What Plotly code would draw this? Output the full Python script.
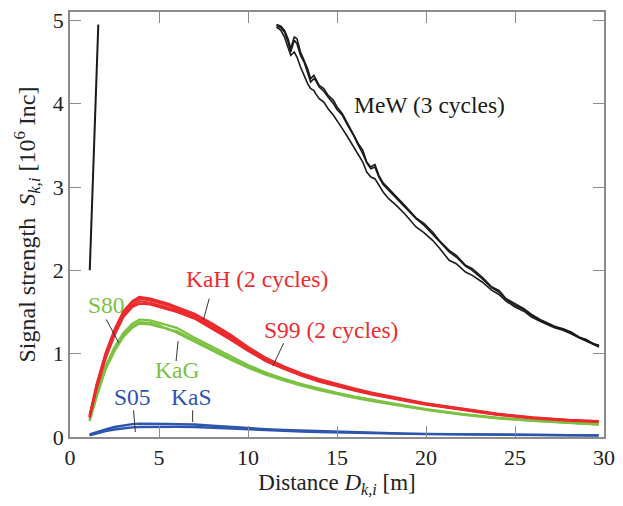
import plotly.graph_objects as go

# ---------------- data ----------------
# Near-range MeW readings (steep rise before saturation)
mew_near_d = [1.11, 1.35, 1.59]
mew_near_s = [2.00, 3.45, 4.95]

# MeW far-range, three measurement cycles
mew_d = [11.6, 11.85, 12.05, 12.25, 12.4, 12.6, 12.75, 12.95, 13.15, 13.35, 13.52, 13.7,
         13.8, 14.0, 14.26, 14.5, 14.8, 15.0, 15.3, 15.6, 15.93, 16.2, 16.45, 16.67,
         16.9, 17.13, 17.35, 17.59, 17.9, 18.33, 18.8, 19.44, 19.9, 20.37, 20.74, 21.3,
         21.7, 22.22, 22.6, 23.15, 23.7, 24.1, 24.5, 25.0, 25.5, 25.93, 26.5, 27.22,
         27.7, 28.15, 28.6, 29.0, 29.4, 29.72]
mew_c1 = [4.95, 4.93, 4.88, 4.78, 4.66, 4.80, 4.78, 4.62, 4.52, 4.42, 4.30, 4.34,
          4.30, 4.22, 4.18, 4.10, 4.04, 3.96, 3.88, 3.76, 3.64, 3.52, 3.44, 3.30,
          3.24, 3.27, 3.14, 3.05, 2.98, 2.89, 2.78, 2.63, 2.56, 2.46, 2.36, 2.24,
          2.18, 2.06, 2.02, 1.92, 1.80, 1.76, 1.66, 1.60, 1.54, 1.47, 1.40, 1.33,
          1.30, 1.26, 1.20, 1.17, 1.12, 1.10]
mew_c2 = [4.94, 4.91, 4.86, 4.74, 4.62, 4.76, 4.72, 4.58, 4.50, 4.38, 4.26, 4.30,
          4.28, 4.20, 4.15, 4.08, 4.00, 3.93, 3.86, 3.74, 3.62, 3.50, 3.40, 3.29,
          3.22, 3.24, 3.12, 3.03, 2.96, 2.87, 2.76, 2.62, 2.54, 2.44, 2.35, 2.22,
          2.16, 2.05, 2.00, 1.90, 1.79, 1.74, 1.65, 1.58, 1.53, 1.46, 1.39, 1.32,
          1.29, 1.25, 1.19, 1.16, 1.12, 1.09]
mew_c3 = [4.92, 4.88, 4.80, 4.68, 4.58, 4.62, 4.56, 4.44, 4.34, 4.24, 4.18, 4.16,
          4.12, 4.06, 4.02, 3.94, 3.86, 3.80, 3.70, 3.60, 3.48, 3.38, 3.30, 3.18,
          3.12, 3.10, 3.02, 2.94, 2.86, 2.78, 2.68, 2.52, 2.45, 2.36, 2.27, 2.12,
          2.08, 1.98, 1.94, 1.86, 1.76, 1.71, 1.63, 1.56, 1.51, 1.44, 1.38, 1.31,
          1.28, 1.24, 1.19, 1.15, 1.11, 1.08]

# Shared distance grid for the other transmitters
dist = [1.1, 1.5, 2.0, 2.5, 3.0, 3.5, 3.9, 4.5, 5.0, 5.5, 6.0, 7.0, 8.0, 9.0, 10.0,
        11.0, 12.0, 13.0, 14.0, 15.0, 16.0, 17.0, 18.0, 19.0, 20.0, 22.0, 24.0,
        26.0, 28.0, 29.7]

# Red group: KaH (2 cycles) and S99 (2 cycles)
kah_c1 = [0.26, 0.64, 1.01, 1.29, 1.51, 1.63, 1.68, 1.66, 1.63, 1.60, 1.56, 1.48,
          1.36, 1.23, 1.08, 0.95, 0.85, 0.765, 0.695, 0.635, 0.58, 0.53, 0.485, 0.445,
          0.405, 0.34, 0.28, 0.235, 0.205, 0.19]
kah_c2 = [0.25, 0.62, 0.99, 1.27, 1.49, 1.61, 1.66, 1.64, 1.61, 1.58, 1.54, 1.46,
          1.34, 1.21, 1.065, 0.94, 0.84, 0.755, 0.685, 0.625, 0.572, 0.523, 0.478, 0.438,
          0.40, 0.335, 0.275, 0.232, 0.202, 0.187]
s99_c1 = [0.24, 0.60, 0.96, 1.24, 1.46, 1.58, 1.63, 1.61, 1.58, 1.55, 1.52, 1.44,
          1.32, 1.19, 1.05, 0.925, 0.83, 0.745, 0.675, 0.615, 0.564, 0.515, 0.47, 0.432,
          0.394, 0.33, 0.27, 0.228, 0.198, 0.183]
s99_c2 = [0.23, 0.58, 0.94, 1.22, 1.44, 1.56, 1.60, 1.59, 1.56, 1.53, 1.50, 1.42,
          1.30, 1.17, 1.035, 0.91, 0.82, 0.735, 0.665, 0.607, 0.557, 0.508, 0.464, 0.426,
          0.388, 0.325, 0.266, 0.224, 0.195, 0.18]

# Green group: S80 and KaG
s80_a = [0.21, 0.52, 0.85, 1.08, 1.25, 1.36, 1.41, 1.40, 1.37, 1.34, 1.31, 1.19,
         1.08, 0.97, 0.865, 0.775, 0.70, 0.635, 0.58, 0.53, 0.485, 0.445, 0.405, 0.37,
         0.335, 0.278, 0.232, 0.198, 0.172, 0.155]
s80_b = [0.20, 0.50, 0.83, 1.05, 1.22, 1.33, 1.38, 1.37, 1.34, 1.29, 1.27, 1.16,
         1.05, 0.945, 0.845, 0.76, 0.688, 0.625, 0.57, 0.52, 0.476, 0.437, 0.398, 0.363,
         0.33, 0.273, 0.228, 0.195, 0.169, 0.152]
kag_a = [0.19, 0.48, 0.81, 1.03, 1.20, 1.31, 1.36, 1.35, 1.32, 1.30, 1.25, 1.14,
         1.03, 0.93, 0.83, 0.748, 0.678, 0.615, 0.562, 0.513, 0.47, 0.43, 0.392, 0.358,
         0.325, 0.269, 0.224, 0.192, 0.166, 0.149]

# Blue group: S05 and KaS
s05 = [0.03, 0.06, 0.09, 0.12, 0.14, 0.155, 0.16, 0.162, 0.16, 0.158, 0.155, 0.15,
       0.135, 0.12, 0.105, 0.095, 0.085, 0.078, 0.07, 0.062, 0.055, 0.05, 0.045,
       0.041, 0.038, 0.032, 0.027, 0.024, 0.022, 0.02]
kas = [0.02, 0.045, 0.07, 0.09, 0.105, 0.115, 0.12, 0.123, 0.125, 0.125, 0.123, 0.12,
       0.11, 0.10, 0.09, 0.08, 0.072, 0.066, 0.06, 0.054, 0.048, 0.044, 0.04, 0.037,
       0.034, 0.029, 0.025, 0.022, 0.02, 0.018]

# Text labels: (text, distance, strength, colour key)
labels = [
    ("MeW (3 cycles)", 20.19, 3.98, "black"),
    ("KaH (2 cycles)", 10.53, 1.90, "red"),
    ("S99 (2 cycles)", 14.69, 1.29, "red"),
    ("S80", 2.03, 1.58, "green"),
    ("KaG", 6.00, 0.80, "green"),
    ("S05", 3.53, 0.48, "blue"),
    ("KaS", 6.81, 0.48, "blue"),
]
# Leader lines from label to curve: (d0, s0, d1, s1)
leaders = [
    (7.82, 1.66, 7.50, 1.41),
    (12.00, 1.125, 11.39, 0.85),
    (2.04, 1.41, 2.74, 1.13),
    (6.07, 1.15, 5.96, 0.91),
    (3.57, 0.32, 3.67, 0.06),
    (6.89, 0.32, 6.89, 0.18),
]

x_ticks = [0, 5, 10, 15, 20, 25, 30]
y_ticks = [0, 1, 2, 3, 4, 5]

# ---------------- styling ----------------
COLORS = {"black": "#1a1a1a", "red": "#ec2a2e", "green": "#7cc142", "blue": "#2e55ae"}
FONT = "'Times New Roman', 'Liberation Serif', 'DejaVu Serif', serif"

fig = go.Figure()


def add_line(x, y, color, width):
    fig.add_trace(go.Scatter(x=x, y=y, mode="lines", showlegend=False,
                             hoverinfo="skip",
                             line=dict(color=color, width=width)))


for ys in (s05, kas):
    add_line(dist, ys, COLORS["blue"], 2.4)
for ys in (s80_a, s80_b, kag_a):
    add_line(dist, ys, COLORS["green"], 2.2)
for ys in (kah_c1, kah_c2, s99_c1, s99_c2):
    add_line(dist, ys, COLORS["red"], 2.2)

add_line(mew_near_d, mew_near_s, COLORS["black"], 2.0)
for ys in (mew_c1, mew_c2, mew_c3):
    add_line(mew_d, ys, COLORS["black"], 1.6)

for d0, s0, d1, s1 in leaders:
    fig.add_shape(type="line", x0=d0, y0=s0, x1=d1, y1=s1, xref="x", yref="y",
                  line=dict(color="#333333", width=1))

for text, d, s, key in labels:
    fig.add_annotation(x=d, y=s, xref="x", yref="y", text=text, showarrow=False,
                       font=dict(family=FONT, size=23.5, color=COLORS[key]))

axis_common = dict(
    showgrid=False, zeroline=False, showline=True, mirror="ticks",
    linecolor="#8c8c8c", linewidth=1.5, ticks="inside", ticklen=11,
    tickcolor="#8c8c8c", tickwidth=1.2,
    tickfont=dict(family=FONT, size=22, color="#222222"),
)

fig.update_layout(
    width=623, height=506,
    margin=dict(l=70, r=13, t=8, b=69),
    paper_bgcolor="white", plot_bgcolor="white",
    font=dict(family=FONT),
    xaxis=dict(range=[0, 30], tickvals=x_ticks, **axis_common,
               title=dict(text="Distance <i>D</i><sub><i>k,i</i></sub> [m]",
                          font=dict(family=FONT, size=23, color="#222222"),
                          standoff=3)),
    yaxis=dict(range=[0, 5.1], tickvals=y_ticks, **axis_common,
               title=dict(text="Signal strength  <i>S</i><sub><i>k,i</i></sub> [10<sup>6</sup> Inc]",
                          font=dict(family=FONT, size=24, color="#222222"),
                          standoff=10)),
)

fig.write_html("out.html")
